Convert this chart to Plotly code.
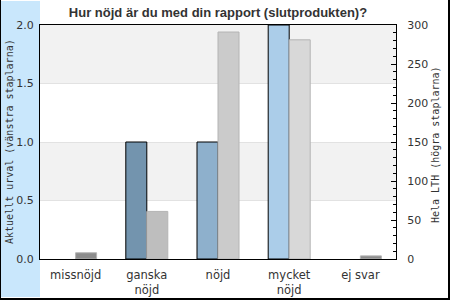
import plotly.graph_objects as go

categories = ["missnöjd", "ganska<br>nöjd", "nöjd", "mycket<br>nöjd", "ej svar"]
aktuellt = [0, 1, 1, 2, 0]
hela_lth = [8, 61, 291, 281, 4]
left_colors = ["#7394ae", "#7394ae", "#8eb0cc", "#abcde9", "#abcde9"]
right_colors = ["#8c8c8c", "#bebebe", "#cbcbcb", "#d8d8d8", "#8c8c8c"]
left_ticks = [0, 0.5, 1.0, 1.5, 2.0]
title = "Hur nöjd är du med din rapport (slutprodukten)?"
left_title = "Aktuellt urval (vänstra staplarna)"
right_title = "Hela LTH (högra staplarna)"

W, H = 450, 300
L, R, T, B = 40, 54, 25, 41
PW, PH = W - L - R, H - T - B

def px(x):
    return (x - L) / PW

def py(y):
    return (H - B - y) / PH

BW = 21 / (PW / len(categories))

# zero-height bars are not drawn in the reference
aktuellt_drawn = [v if v else None for v in aktuellt]

fig = go.Figure()
fig.add_trace(go.Bar(x=categories, y=aktuellt_drawn, yaxis="y", width=BW, offset=-BW,
                     marker=dict(color=left_colors, line=dict(color="black", width=1)),
                     showlegend=False))
fig.add_trace(go.Bar(x=categories, y=hela_lth, yaxis="y2", width=BW, offset=0,
                     marker=dict(color=right_colors, line=dict(color="#b4b4b4", width=1)),
                     showlegend=False))

shapes = [
    dict(type="rect", xref="paper", yref="paper", x0=px(1), x1=px(40), y0=py(297), y1=py(1),
         fillcolor="#c9e7fc", line=dict(width=0), layer="below"),
    dict(type="rect", xref="paper", yref="y", x0=0, x1=1, y0=0.5, y1=1.0,
         fillcolor="#f2f2f2", line=dict(width=0), layer="below"),
    dict(type="rect", xref="paper", yref="y", x0=0, x1=1, y0=1.5, y1=2.0,
         fillcolor="#f2f2f2", line=dict(width=0), layer="below"),
    dict(type="line", xref="paper", yref="paper", x0=px(0.5), x1=px(0.5), y0=py(0), y1=py(300),
         line=dict(color="black", width=1)),
    dict(type="line", xref="paper", yref="paper", x0=px(449), x1=px(449), y0=py(0), y1=py(300),
         line=dict(color="black", width=2)),
    dict(type="line", xref="paper", yref="paper", x0=px(0), x1=px(450), y0=py(299), y1=py(299),
         line=dict(color="black", width=2)),
]

fig.update_layout(
    width=W, height=H,
    margin=dict(l=L, r=R, t=T, b=B, pad=0, autoexpand=False),
    paper_bgcolor="white", plot_bgcolor="white",
    barmode="overlay",
    shapes=shapes,
    title=dict(text=title, x=0.5, xref="paper", xanchor="center",
               y=1 - 12 / H, yref="container", yanchor="middle",
               font=dict(family="Liberation Sans", size=13, color="#333333", weight="bold")),
    font=dict(family="DejaVu Sans", size=11, color="#333333"),
    xaxis=dict(range=[-0.5, 4.5], showline=True, linecolor="black", linewidth=1, mirror=True,
               ticks="", showgrid=False, tickfont=dict(size=11.5, color="#333333"),
               ticklabelstandoff=5, automargin=False),
    yaxis=dict(range=[0, 2], tickvals=left_ticks, tickformat=".1f", showline=True,
               linecolor="black", linewidth=1, ticks="", showgrid=True, gridcolor="#e2e2e2",
               gridwidth=1, zeroline=False, tickfont=dict(size=11, color="#333333"),
               ticklabelstandoff=3, automargin=False),
    yaxis2=dict(range=[0, 300], overlaying="y", side="right", dtick=50, showline=True,
                linecolor="black", linewidth=1, ticks="inside", ticklen=5, tickcolor="black",
                minor=dict(dtick=10, ticks="inside", ticklen=3, tickcolor="black"),
                showgrid=False, zeroline=False, tickfont=dict(size=11, color="#333333"),
                ticklabelstandoff=8, automargin=False),
    annotations=[
        dict(text=left_title, textangle=-90, xref="paper", yref="paper",
             x=px(9), y=py(142), xanchor="center", yanchor="middle", showarrow=False,
             font=dict(family="DejaVu Sans Mono", size=10, color="#333333")),
        dict(text=right_title, textangle=-90, xref="paper", yref="paper",
             x=px(435), y=py(145), xanchor="center", yanchor="middle", showarrow=False,
             font=dict(family="DejaVu Sans Mono", size=10, color="#333333")),
    ],
)

fig.write_html("out.html")
